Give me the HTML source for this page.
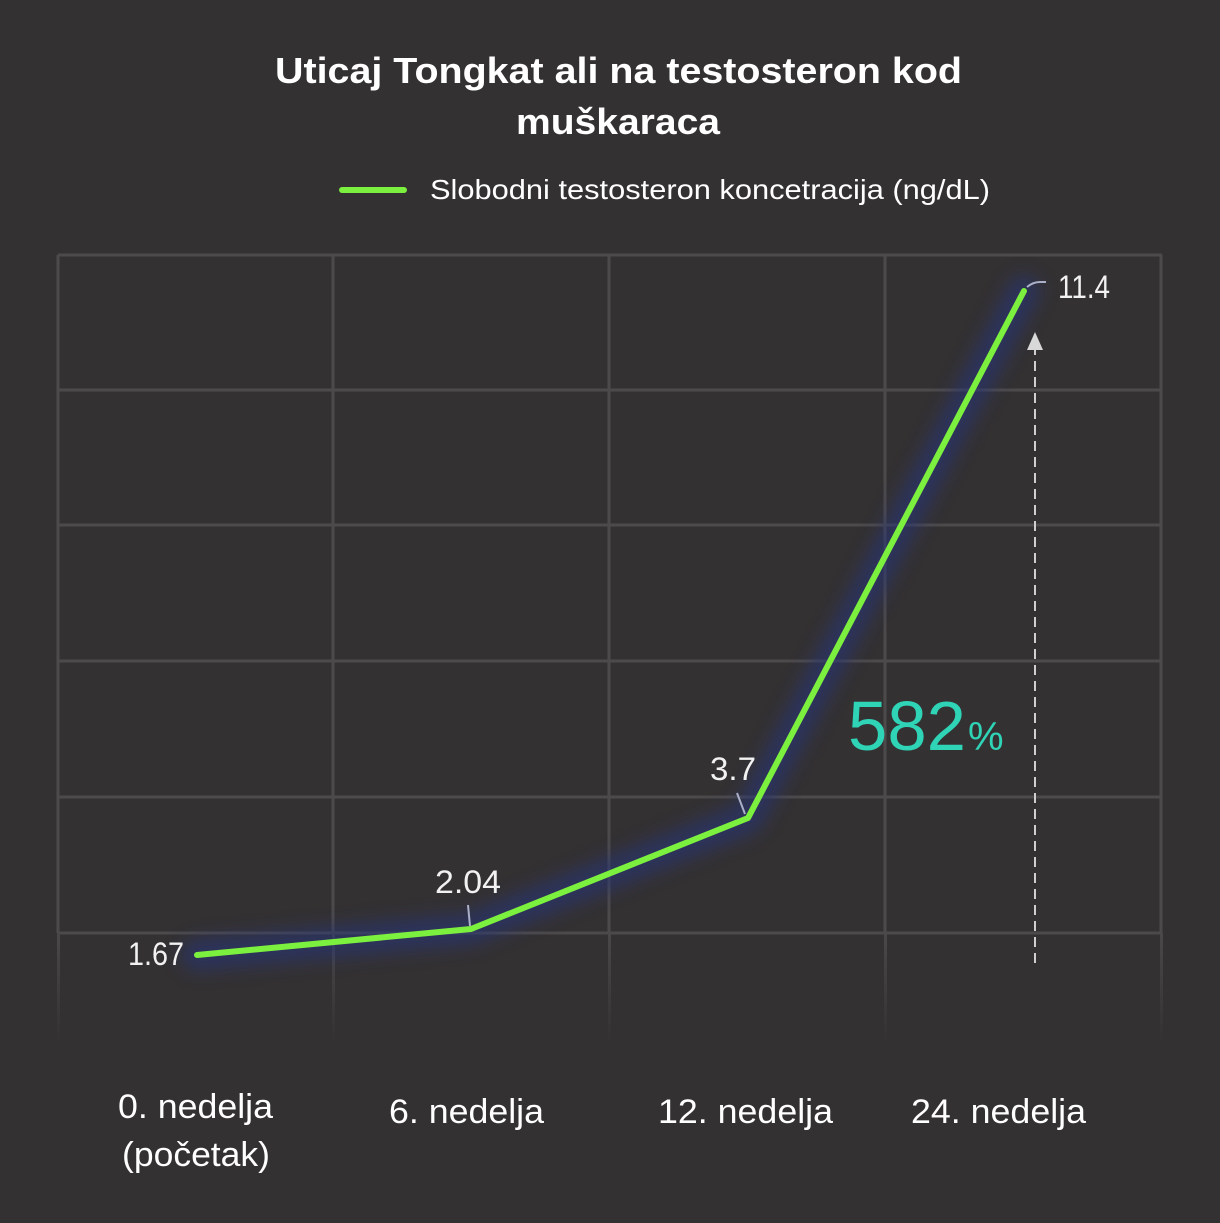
<!DOCTYPE html>
<html><head><meta charset="utf-8"><style>
html,body{margin:0;padding:0;background:#343132;}
body{width:1220px;height:1218px;overflow:hidden;}
</style></head><body>
<svg width="1220" height="1218" viewBox="0 0 1220 1218" xmlns="http://www.w3.org/2000/svg">
<defs>
<filter id="glow" x="-20%" y="-20%" width="140%" height="140%"><feGaussianBlur stdDeviation="9"/></filter>
<linearGradient id="fade" x1="0" y1="0" x2="0" y2="1"><stop offset="0" stop-color="#4b4849"/><stop offset="1" stop-color="#343132"/></linearGradient>
</defs>
<rect width="1220" height="1218" fill="#343132"/>
<g stroke="#4d4a4b" stroke-width="3" fill="none">
<line x1="58" y1="255" x2="1162" y2="255"/>
<line x1="58" y1="390" x2="1162" y2="390"/>
<line x1="58" y1="525" x2="1162" y2="525"/>
<line x1="58" y1="661" x2="1162" y2="661"/>
<line x1="58" y1="797" x2="1162" y2="797"/>
<line x1="58" y1="933" x2="1162" y2="933"/>
<line x1="58" y1="255" x2="58" y2="933"/>
<line x1="333" y1="255" x2="333" y2="933"/>
<line x1="609" y1="255" x2="609" y2="933"/>
<line x1="885" y1="255" x2="885" y2="933"/>
<line x1="1161" y1="255" x2="1161" y2="933"/>
</g>
<g>
<rect x="57" y="933" width="3" height="110" fill="url(#fade)"/>
<rect x="332" y="933" width="3" height="110" fill="url(#fade)"/>
<rect x="608" y="933" width="3" height="110" fill="url(#fade)"/>
<rect x="884" y="933" width="3" height="110" fill="url(#fade)"/>
<rect x="1160" y="933" width="3" height="110" fill="url(#fade)"/>
</g>
<polyline points="197,955 471,929 748,818 1024,291" fill="none" stroke="#263578" stroke-width="32" stroke-linejoin="round" stroke-linecap="round" filter="url(#glow)" opacity="0.6"/>
<polyline points="197,955 471,929 748,818 1024,291" fill="none" stroke="#7cf03e" stroke-width="6" stroke-linejoin="round" stroke-linecap="round"/>
<g stroke="#aab0c8" stroke-width="2" fill="none">
<line x1="468" y1="905" x2="470" y2="926"/>
<line x1="737" y1="793" x2="745" y2="814"/>
<path d="M1027,287 Q1033,282 1040,282 L1046,282"/>
</g>
<line x1="1035" y1="345" x2="1035" y2="965" stroke="#cfcfcf" stroke-width="2" stroke-dasharray="10,6"/>
<polygon points="1035,332 1027,350 1043,350" fill="#d8d8d8"/>
<g font-family="'Liberation Sans Narrow','Liberation Sans',sans-serif" fill="#f2f2f2" font-size="32">
<text x="128" y="965" textLength="56" lengthAdjust="spacingAndGlyphs">1.67</text>
<text x="435" y="893" textLength="66" lengthAdjust="spacingAndGlyphs">2.04</text>
<text x="710" y="780" textLength="46" lengthAdjust="spacingAndGlyphs">3.7</text>
<text x="1058" y="298" textLength="52" lengthAdjust="spacingAndGlyphs">11.4</text>
</g>
<text x="848" y="750" font-family="'Liberation Sans',sans-serif" font-size="70" fill="#2fd3b6" textLength="118" lengthAdjust="spacingAndGlyphs">582</text>
<text x="968" y="750" font-family="'Liberation Sans',sans-serif" font-size="40" fill="#2fd3b6">%</text>
<g font-family="'Liberation Sans',sans-serif" fill="#ffffff" font-weight="bold" font-size="36">
<text x="275" y="83" textLength="687" lengthAdjust="spacingAndGlyphs">Uticaj Tongkat ali na testosteron kod</text>
<text x="516" y="134" textLength="204" lengthAdjust="spacingAndGlyphs">muškaraca</text>
</g>
<line x1="342" y1="190" x2="404" y2="190" stroke="#7cf03e" stroke-width="6" stroke-linecap="round"/>
<text x="430" y="199" font-family="'Liberation Sans',sans-serif" font-size="28" fill="#ffffff" textLength="560" lengthAdjust="spacingAndGlyphs">Slobodni testosteron koncetracija (ng/dL)</text>
<g font-family="'Liberation Sans',sans-serif" fill="#ffffff" font-size="34">
<text x="118" y="1118" textLength="155" lengthAdjust="spacingAndGlyphs">0. nedelja</text>
<text x="122" y="1166" textLength="148" lengthAdjust="spacingAndGlyphs">(početak)</text>
<text x="389" y="1123" textLength="155" lengthAdjust="spacingAndGlyphs">6. nedelja</text>
<text x="658" y="1123" textLength="175" lengthAdjust="spacingAndGlyphs">12. nedelja</text>
<text x="911" y="1123" textLength="175" lengthAdjust="spacingAndGlyphs">24. nedelja</text>
</g>
</svg>
</body></html>
